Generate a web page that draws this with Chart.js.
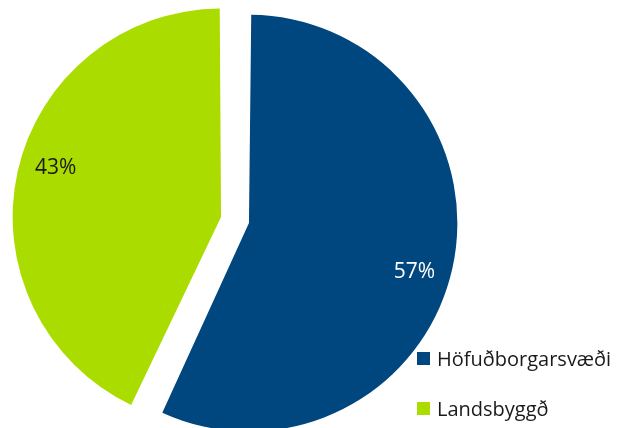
<!DOCTYPE html>
<html>
<head>
<meta charset="utf-8">
<script src="https://cdn.jsdelivr.net/npm/chart.js@4.4.0/dist/chart.umd.min.js"></script>
<style>
  html, body { margin: 0; padding: 0; width: 619px; height: 428px; overflow: hidden; background: #ffffff; }
  #wrap { position: absolute; left: -2px; top: -17px; width: 474px; height: 474px; }
  #legend { position: absolute; left: 417px; top: 344px; font-family: "Open Sans", sans-serif; font-size: 20px; color: #1a1a1a; }
  .item { display: flex; align-items: center; height: 28px; margin-bottom: 22px; white-space: nowrap; }
  .sw { width: 13px; height: 13px; margin-right: 7px; }
</style>
</head>
<body>
<div id="wrap"><canvas id="c"></canvas></div>
<div id="legend"></div>
<script>
const categories = ["Höfuðborgarsvæði", "Landsbyggð"];
const values = [57, 43];
const valueLabels = ["57%", "43%"];
const colors = ["#00467F", "#AADC00"];
const labelColors = ["#ffffff", "#1a1a1a"];
const explode = 57.2;

// Chart.js enlarges an exploded slice's radius by offset/4*(1-sin(min(PI,circ))); undo it so both slices keep one radius
const equalRadius = {
  id: 'equalRadius',
  afterDatasetsUpdate(chart) {
    const meta = chart.getDatasetMeta(0);
    const base = meta.controller.outerRadius;
    meta.data.forEach(arc => {
      const circ = arc.circumference;
      const fix = 1 - Math.sin(Math.min(Math.PI, circ || 0));
      arc.outerRadius = base - (explode / 4) * fix;
    });
  }
};

const labelPlugin = {
  id: 'sliceLabels',
  afterDatasetsDraw(chart) {
    const meta = chart.getDatasetMeta(0);
    const base = meta.controller.outerRadius;
    const ctx = chart.ctx;
    ctx.save();
    ctx.font = '21px "Open Sans", sans-serif';
    ctx.textAlign = 'center';
    ctx.textBaseline = 'middle';
    meta.data.forEach((arc, i) => {
      const mid = (arc.startAngle + arc.endAngle) / 2 + 3.7 * Math.PI / 180;
      const r = base * 0.897;
      ctx.fillStyle = labelColors[i];
      ctx.fillText(valueLabels[i], arc.x + Math.cos(mid) * r, arc.y + Math.sin(mid) * r);
    });
    ctx.restore();
  }
};

new Chart(document.getElementById('c'), {
  type: 'pie',
  data: {
    labels: categories,
    datasets: [{
      data: values,
      backgroundColor: colors,
      borderWidth: 0,
      offset: explode,
      hoverOffset: 0
    }]
  },
  options: {
    responsive: true,
    maintainAspectRatio: false,
    animation: false,
    layout: { padding: 0 },
    plugins: { legend: { display: false }, tooltip: { enabled: false } }
  },
  plugins: [equalRadius, labelPlugin]
});

const lg = document.getElementById('legend');
categories.forEach((c, i) => {
  const d = document.createElement('div');
  d.className = 'item';
  d.innerHTML = '<span class="sw" style="background:' + colors[i] + '"></span><span>' + c + '</span>';
  lg.appendChild(d);
});
</script>
</body>
</html>
